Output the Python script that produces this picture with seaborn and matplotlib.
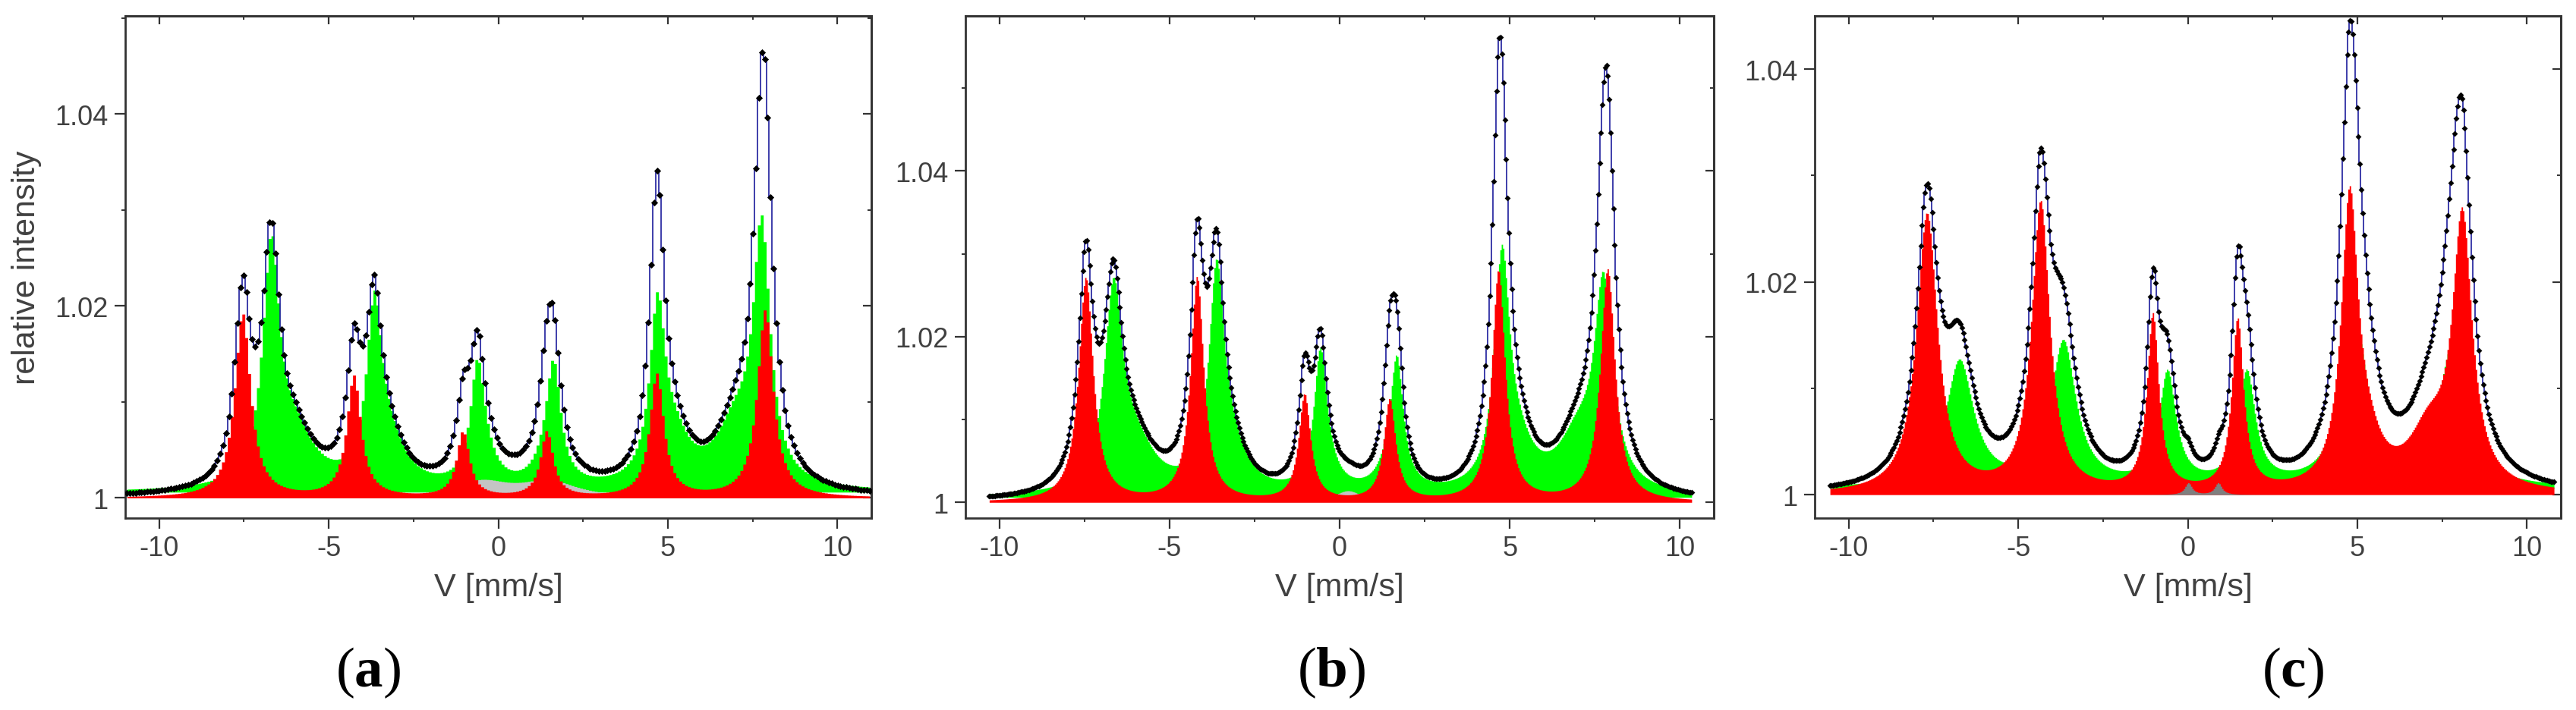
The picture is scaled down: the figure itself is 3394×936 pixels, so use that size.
import numpy as np
import pandas as pd
import matplotlib
matplotlib.use("Agg")
import matplotlib.pyplot as plt
import seaborn as sns
from matplotlib.ticker import MultipleLocator, FixedLocator, FuncFormatter, NullFormatter

# Sub-spectra: line positions [mm/s], heights above 1 and widths (FWHM, mm/s)
# (a)
red_pos_a = [-7.54, -4.26, -1.04, 1.43, 4.67, 7.87]
red_amp_a = [0.0192, 0.0126, 0.0068, 0.0068, 0.0128, 0.0195]
red_fwhm_a = [0.56, 0.50, 0.45, 0.45, 0.50, 0.56]
green_pos_a = [-6.70, -3.66, -0.62, 1.63, 4.69, 7.76, -6.0, -3.2, -0.4, 1.4, 5.2, 7.0]
green_amp_a = [0.0242, 0.0178, 0.0116, 0.0116, 0.0178, 0.0258, 0.005, 0.004, 0.002, 0.002, 0.004, 0.006]
green_fwhm_a = [0.60, 0.55, 0.50, 0.50, 0.55, 0.60, 1.4, 1.1, 0.8, 0.8, 1.1, 1.4]
gray_pos_a = [-0.5, 1.5]
gray_amp_a = [0.0016, 0.0016]
gray_fwhm_a = [2.0, 2.0]

# (b)
red_pos_b = [-7.46, -4.19, -1.03, 1.47, 4.67, 7.88]
red_amp_b = [0.0270, 0.0270, 0.0128, 0.0122, 0.0278, 0.0280]
red_fwhm_b = [0.52, 0.47, 0.42, 0.42, 0.47, 0.52]
green_pos_b = [-6.65, -3.62, -0.57, 1.68, 4.77, 7.75, -6.0, -3.2, -0.4, 1.45, 5.25, 7.0]
green_amp_b = [0.0235, 0.0254, 0.0155, 0.0148, 0.0272, 0.0240, 0.005, 0.004, 0.002, 0.002, 0.004, 0.006]
green_fwhm_b = [0.65, 0.55, 0.45, 0.45, 0.55, 0.65, 1.4, 1.1, 0.8, 0.8, 1.1, 1.4]
gray_pos_b = [0.25]
gray_amp_b = [0.0014]
gray_fwhm_b = [1.0]

# (c)
red_pos_c = [-7.69, -4.34, -1.03, 1.47, 4.77, 8.09, 5.3, 7.1]
red_amp_c = [0.0262, 0.0272, 0.0165, 0.0160, 0.0268, 0.0250, 0.003, 0.005]
red_fwhm_c = [0.75, 0.65, 0.42, 0.42, 0.60, 0.70, 1.0, 1.4]
green_pos_c = [-6.73, -3.67, -0.60, 1.74, 4.90, 7.80]
green_amp_c = [0.0118, 0.0135, 0.0105, 0.0105, 0.0160, 0.0130]
green_fwhm_c = [1.0, 0.9, 0.6, 0.6, 0.9, 1.0]
gray_pos_c = [0.02, 0.90]
gray_amp_c = [0.0011, 0.0011]
gray_fwhm_c = [0.25, 0.25]

# measured velocity range and number of channels of each spectrum
v_range = {"a": (-10.95, 10.95, 256), "b": (-10.30, 10.35, 512), "c": (-10.55, 10.80, 512)}
y_limits = {"a": (0.9979, 1.0502), "b": (0.9981, 1.0587), "c": (0.9978, 1.045)}
gray_colors = {"a": "#c4c4c4", "b": "#c4c4c4", "c": "#7f7f7f"}
gray_on_top = {"a": False, "b": False, "c": True}
dot_size = {"a": 22, "b": 16, "c": 16}
green_base = 0.0006

panels = {
    "a": [(red_pos_a, red_amp_a, red_fwhm_a), (green_pos_a, green_amp_a, green_fwhm_a), (gray_pos_a, gray_amp_a, gray_fwhm_a)],
    "b": [(red_pos_b, red_amp_b, red_fwhm_b), (green_pos_b, green_amp_b, green_fwhm_b), (gray_pos_b, gray_amp_b, gray_fwhm_b)],
    "c": [(red_pos_c, red_amp_c, red_fwhm_c), (green_pos_c, green_amp_c, green_fwhm_c), (gray_pos_c, gray_amp_c, gray_fwhm_c)],
}


def lorentz(v, pos, amp, fwhm):
    out = np.zeros_like(v)
    for p, a, w in zip(pos, amp, fwhm):
        out += a / (1 + ((v - p) / (w / 2)) ** 2)
    return out


sns.set_theme(style="ticks")
plt.rcParams["font.family"] = ["Liberation Sans", "DejaVu Sans"]
plt.rcParams["axes.unicode_minus"] = False
plt.rcParams["mathtext.fontset"] = "custom"
plt.rcParams["mathtext.rm"] = "Liberation Serif"
plt.rcParams["mathtext.bf"] = "Liberation Serif:bold"

fig = plt.figure(figsize=(33.94, 9.37), dpi=100)
lefts = {"a": 165, "b": 1272, "c": 2391}
rights = {"a": 1148, "b": 2258, "c": 3374}
W, H = 3394, 937
top_px, bot_px = 22, 684
label_x = {"a": 0.143, "b": 0.517, "c": 0.890}
dark = "#333333"
txt = "#404040"

for key in ["a", "b", "c"]:
    l, r = lefts[key] / W, rights[key] / W
    ax = fig.add_axes([l, 1 - bot_px / H, r - l, (bot_px - top_px) / H])
    lo, hi, n = v_range[key]
    v = np.linspace(lo, hi, n)
    red, green, gray = [lorentz(v, *c) for c in panels[key]]
    total = 1 + red + green + gray

    ax.fill_between(v, 1 + green_base, 1 + green_base + green, step="mid", color="#00ff00", lw=0)
    if not gray_on_top[key]:
        ax.fill_between(v, 1, 1 + gray, step="mid", color=gray_colors[key], lw=0)
    ax.fill_between(v, 1, 1 + red, step="mid", color="#ff0000", lw=0)
    if gray_on_top[key]:
        ax.fill_between(v, 1, 1 + gray, step="mid", color=gray_colors[key], lw=0)

    df = pd.DataFrame({"v": v, "fit": total})
    sns.lineplot(data=df, x="v", y="fit", ax=ax, color="#1c1c9c", lw=1.2,
                 drawstyle="steps-mid", estimator=None, sort=False)
    sns.scatterplot(data=df, x="v", y="fit", ax=ax, color="black", marker="D",
                    s=dot_size[key], linewidth=0, zorder=5)

    ax.set_xlim(-11, 11)
    ax.set_ylim(*y_limits[key])
    ax.xaxis.set_major_locator(FixedLocator([-10, -5, 0, 5, 10]))
    ax.xaxis.set_minor_locator(MultipleLocator(2.5))
    ax.yaxis.set_major_locator(FixedLocator([1.0, 1.02, 1.04]))
    ax.yaxis.set_minor_locator(MultipleLocator(0.01))
    ax.yaxis.set_major_formatter(FuncFormatter(lambda y, p: f"{y:g}"))
    ax.xaxis.set_major_formatter(FuncFormatter(lambda x, p: f"{x:g}"))
    ax.tick_params(which="major", direction="out", length=10, width=1.6, color=dark,
                   labelsize=26, labelcolor=txt, pad=6)
    ax.tick_params(which="minor", direction="out", length=3.5, width=1.4, color=dark)
    for s in ax.spines.values():
        s.set_linewidth(2.0)
        s.set_color(dark)
        s.set_visible(True)

    # inward ticks on the top and right frame
    secx = ax.secondary_xaxis("top")
    secx.xaxis.set_major_locator(FixedLocator([-10, -5, 0, 5, 10]))
    secx.xaxis.set_minor_locator(MultipleLocator(2.5))
    secx.xaxis.set_major_formatter(NullFormatter())
    secx.tick_params(which="major", direction="in", length=8, width=1.6, color=dark)
    secx.tick_params(which="minor", direction="in", length=3.5, width=1.4, color=dark)
    secy = ax.secondary_yaxis("right")
    secy.yaxis.set_major_locator(FixedLocator([1.0, 1.02, 1.04]))
    secy.yaxis.set_minor_locator(MultipleLocator(0.01))
    secy.yaxis.set_major_formatter(NullFormatter())
    secy.tick_params(which="major", direction="in", length=8, width=1.6, color=dark)
    secy.tick_params(which="minor", direction="in", length=3.5, width=1.4, color=dark)
    for sec in (secx, secy):
        for s in sec.spines.values():
            s.set_linewidth(2.0)
            s.set_color(dark)

    ax.set_xlabel("V [mm/s]", fontsize=31, color=txt, labelpad=10)
    if key == "a":
        ax.set_ylabel("relative intensity", fontsize=31, color=txt)
        ax.yaxis.label.set_verticalalignment("center")
        ax.yaxis.set_label_coords(-0.132, 0.5)
    else:
        ax.set_ylabel("")

    fig.text(label_x[key], 0.053, r"$\mathrm{(}\mathbf{%s}\mathrm{)}$" % key,
             ha="center", va="center", fontsize=54, color="black")

fig.savefig("out.png", dpi=100, facecolor="white")
